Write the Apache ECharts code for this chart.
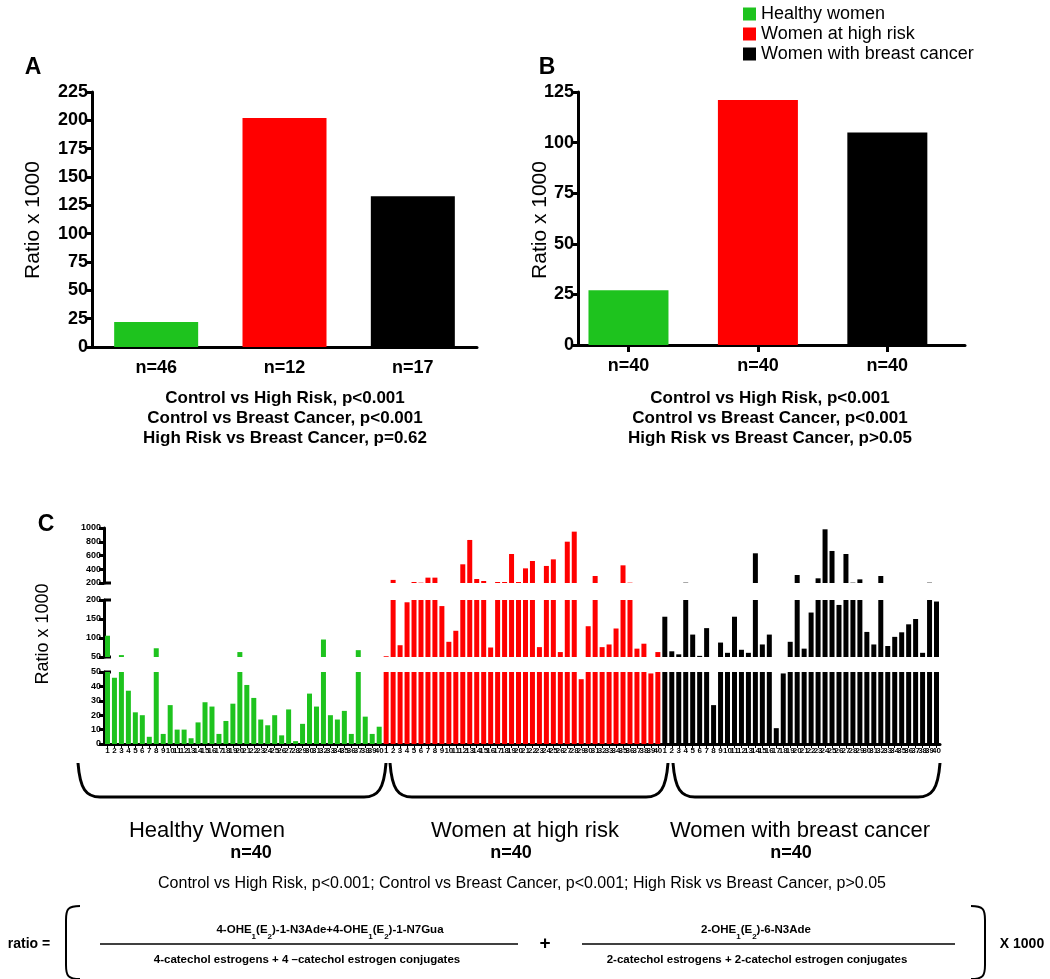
<!DOCTYPE html>
<html><head><meta charset="utf-8">
<script src="https://cdn.jsdelivr.net/npm/echarts@6/dist/echarts.min.js"></script>
<style>html,body{margin:0;padding:0;background:#fff}#main{width:1050px;height:979px}</style>
</head><body><div id="main"></div>
<script>
// ---------- data ----------
const groupNames = ['Healthy women', 'Women at high risk', 'Women with breast cancer'];
const groupColors = ['#1ec31e', '#ff0000', '#000000'];

const aCategories = ['n=46', 'n=12', 'n=17'];
const aValues = [22, 202, 133];
const aAxis = [0, 225, 25];          // min, max, interval

const bCategories = ['n=40', 'n=40', 'n=40'];
const bValues = [27, 121, 105];
const bAxis = [0, 125, 25];

const healthyValues = [106, 46, 55, 37, 22, 20, 5, 73, 7, 27, 10, 10, 4, 15, 29, 26, 7, 16, 28, 63,
                       41, 32, 17, 13, 20, 6, 24, 2, 14, 35, 26, 96, 20, 17, 23, 7, 68, 19, 7, 12];
const highRiskValues = [52, 245, 81, 194, 215, 205, 278, 278, 184, 90, 119, 472, 826, 258, 229, 75, 215, 215, 622, 215,
                        413, 520, 76, 448, 544, 63, 801, 947, 45, 131, 302, 76, 83, 125, 457, 205, 72, 85, 49, 63];
const cancerValues = [156, 65, 57, 205, 109, 53, 126, 27, 88, 61, 156, 69, 61, 632, 83, 109, 11, 49, 90, 316,
                      72, 167, 268, 981, 666, 187, 622, 205, 253, 116, 83, 302, 79, 103, 115, 136, 150, 61, 205, 196];
const cTopAxis = [200, 1000, 200];
const cMidAxis = [50, 200, 50];
const cLowAxis = [0, 50, 10];

const aStats = ['Control vs High Risk, p<0.001', 'Control vs Breast Cancer, p<0.001', 'High Risk vs Breast Cancer, p=0.62'];
const bStats = ['Control vs High Risk, p<0.001', 'Control vs Breast Cancer, p<0.001', 'High Risk vs Breast Cancer, p>0.05'];
const cGroupLabels = ['Healthy Women', 'Women at high risk', 'Women with breast cancer'];
const cGroupN = ['n=40', 'n=40', 'n=40'];
const cStats = 'Control vs High Risk, p<0.001; Control vs Breast Cancer, p<0.001; High Risk vs Breast Cancer, p>0.05';

// ---------- build ----------
const FONT = 'Liberation Sans, Arial, Helvetica, sans-serif';
const cGroups = [healthyValues, highRiskValues, cancerValues];
const cIds = [], cTickLabels = [];
cGroups.forEach((arr, g) => arr.forEach((v, i) => { cIds.push(g + '_' + (i + 1)); cTickLabels.push(String(i + 1)); }));
const cTotal = cIds.length;

const axisLine = { show: true, onZero: false, lineStyle: { color: '#000', width: 3 } };

function panelSeries(vals, gridIdx, valueX) {
  return groupNames.map((name, g) => ({
    name, type: 'bar', xAxisIndex: gridIdx, yAxisIndex: gridIdx,
    barWidth: gridIdx === 0 ? 84 : 80, barGap: '-100%', silent: true,
    itemStyle: { color: groupColors[g] },
    data: valueX ? [[g, vals[g]]] : vals.map((v, i) => (i === g ? v : '-'))
  }));
}
function cSeries(gridIdx) {
  let offset = 0;
  return cGroups.map((arr, g) => {
    const data = new Array(cTotal).fill('-');
    arr.forEach((v, i) => { data[offset + i] = v; });
    offset += arr.length;
    return {
      name: groupNames[g], type: 'bar', xAxisIndex: gridIdx, yAxisIndex: gridIdx,
      barWidth: 5, barGap: '-100%', clip: true, silent: true,
      itemStyle: { color: groupColors[g] }, data
    };
  });
}
const tickStyle = { length: 7, lineStyle: { width: 3, color: '#000' } };
const bigLabel = { color: '#000', fontSize: 18, fontWeight: 'bold', fontFamily: FONT };
function panelXA(cats, gridIdx) {
  return {
    type: 'category', gridIndex: gridIdx, data: cats,
    axisLine, axisTick: Object.assign({ alignWithLabel: true }, tickStyle),
    axisLabel: Object.assign({ margin: 12 }, bigLabel)
  };
}
function panelXB(cats, gridIdx) {
  const pos = cats.map((c, i) => i);
  return {
    type: 'value', gridIndex: gridIdx, min: -0.39, max: 2.6, splitLine: { show: false },
    axisLine, axisTick: Object.assign({ customValues: pos }, tickStyle),
    axisLabel: Object.assign({ margin: 12, customValues: pos, formatter: v => cats[Math.round(v)] }, bigLabel)
  };
}
function panelY(ax, gridIdx) {
  return {
    type: 'value', gridIndex: gridIdx, min: ax[0], max: ax[1], interval: ax[2],
    axisLine, splitLine: { show: false },
    axisTick: Object.assign({ show: true }, tickStyle),
    axisLabel: Object.assign({ margin: 4 }, bigLabel)
  };
}
function cX(gridIdx, show) {
  return {
    type: 'category', gridIndex: gridIdx, data: cIds, show,
    axisLine, axisTick: { show, interval: 0, alignWithLabel: true, length: 4, lineStyle: { width: 1, color: '#000' } },
    axisLabel: { show, interval: 0, color: '#000', fontSize: 8, fontWeight: 'bold', fontFamily: FONT, margin: 3,
                 formatter: (v, i) => cTickLabels[i] }
  };
}
function cY(ax, gridIdx) {
  return {
    type: 'value', gridIndex: gridIdx, min: ax[0], max: ax[1], interval: ax[2],
    axisLine, splitLine: { show: false },
    axisTick: { show: true, length: 5, lineStyle: { width: 3, color: '#000' } },
    axisLabel: { color: '#000', fontSize: 9, fontWeight: 'bold', fontFamily: FONT, margin: 3, formatter: v => String(v) }
  };
}

const grids = [
  { left: 92, top: 92, width: 385, height: 255 },
  { left: 578, top: 92, width: 387, height: 253 },
  { left: 104, top: 528, width: 836, height: 55 },
  { left: 104, top: 600, width: 836, height: 57 },
  { left: 104, top: 672, width: 836, height: 72 }
];

const graphic = [];
function txt(x, y, text, size, weight, extra) {
  graphic.push(Object.assign({ type: 'text', x, y, silent: true,
    style: { text, fill: '#000', font: `${weight} ${size}px ${FONT}`, align: 'center', verticalAlign: 'middle' } }, extra || {}));
}
txt(33, 68, 'A', 23, 'bold');
txt(547, 68, 'B', 23, 'bold');
txt(46, 525, 'C', 23, 'bold');
txt(33, 220, 'Ratio x 1000', 21, 'normal', { rotation: Math.PI / 2 });
txt(540, 220, 'Ratio x 1000', 21, 'normal', { rotation: Math.PI / 2 });
txt(43, 634, 'Ratio x 1000', 18, 'normal', { rotation: Math.PI / 2 });
aStats.forEach((s, i) => txt(285, 398 + i * 20, s, 17, 'bold'));
bStats.forEach((s, i) => txt(770, 398 + i * 20, s, 17, 'bold'));
const cCenters = [207, 525, 800], nCenters = [251, 511, 791];
cGroupLabels.forEach((s, i) => txt(cCenters[i], 831, s, 22, 'normal'));
cGroupN.forEach((s, i) => txt(nCenters[i], 853, s, 18, 'bold'));
txt(522, 884, cStats, 16, 'normal');

// axis break marks in panel C (extend boundary ticks across the axis)
[grids[2].top + grids[2].height, grids[3].top, grids[3].top + grids[3].height, grids[4].top].forEach(y => {
  graphic.push({ type: 'line', silent: true, shape: { x1: 104, y1: y, x2: 111, y2: y }, style: { stroke: '#000', lineWidth: 3 } });
});

// braces under groups
function brace(x1, x2) {
  const y1 = 763, y2 = 797, r = 22;
  graphic.push({ type: 'bezierCurve', silent: true, shape: { x1, y1, cpx1: x1 + 2, cpy1: y2 - 8, cpx2: x1 + 8, cpy2: y2, x2: x1 + r, y2 }, style: { stroke: '#000', lineWidth: 3, fill: null } });
  graphic.push({ type: 'line', silent: true, shape: { x1: x1 + r, y1: y2, x2: x2 - r, y2 }, style: { stroke: '#000', lineWidth: 3 } });
  graphic.push({ type: 'bezierCurve', silent: true, shape: { x1: x2 - r, y1: y2, cpx1: x2 - 8, cpy1: y2, cpx2: x2 - 2, cpy2: y2 - 8, x2, y2: y1 }, style: { stroke: '#000', lineWidth: 3, fill: null } });
}
brace(78, 386); brace(390, 668); brace(673, 940);

// formula
function bracket(x, dir) {
  const t = 906, b = 979, w = 14 * dir;
  graphic.push({ type: 'bezierCurve', silent: true, shape: { x1: x + w, y1: t, cpx1: x + 2 * dir, cpy1: t, cpx2: x, cpy2: t + 3, x2: x, y2: t + 14 }, style: { stroke: '#000', lineWidth: 2, fill: null } });
  graphic.push({ type: 'line', silent: true, shape: { x1: x, y1: t + 14, x2: x, y2: b - 14 }, style: { stroke: '#000', lineWidth: 2 } });
  graphic.push({ type: 'bezierCurve', silent: true, shape: { x1: x, y1: b - 14, cpx1: x, cpy1: b - 3, cpx2: x + 2 * dir, cpy2: b, x2: x + w, y2: b }, style: { stroke: '#000', lineWidth: 2, fill: null } });
}
bracket(66, 1); bracket(985, -1);
graphic.push({ type: 'line', silent: true, shape: { x1: 100, y1: 944, x2: 518, y2: 944 }, style: { stroke: '#000', lineWidth: 1.5 } });
graphic.push({ type: 'line', silent: true, shape: { x1: 582, y1: 944, x2: 955, y2: 944 }, style: { stroke: '#000', lineWidth: 1.5 } });
const rich = {
  n: { fontSize: 11.5, fontWeight: 'bold', fontFamily: FONT, fill: '#000', lineHeight: 14 },
  s: { fontSize: 8, fontWeight: 'bold', fontFamily: FONT, fill: '#000', lineHeight: 14, verticalAlign: 'bottom', padding: [0, 0, -4, 0] }
};
function richTxt(x, y, text) {
  graphic.push({ type: 'text', x, y, silent: true, style: { text, rich, align: 'center', verticalAlign: 'middle' } });
}
richTxt(330, 930, '{n|4-OHE}{s|1}{n|(E}{s|2}{n|)-1-N3Ade+4-OHE}{s|1}{n|(E}{s|2}{n|)-1-N7Gua}');
richTxt(307, 960, '{n|4-catechol estrogens + 4 \u2013catechol estrogen conjugates}');
richTxt(756, 930, '{n|2-OHE}{s|1}{n|(E}{s|2}{n|)-6-N3Ade}');
richTxt(757, 960, '{n|2-catechol estrogens + 2-catechol estrogen conjugates}');
txt(29, 944, 'ratio =', 14, 'bold');
txt(545, 944, '+', 19, 'bold');
txt(1022, 944, 'X 1000', 14, 'bold');

const option = {
  backgroundColor: '#fff',
  animation: false,
  legend: {
    orient: 'vertical', left: 738, top: 0, itemWidth: 13, itemHeight: 13, itemGap: 2,
    icon: 'rect', selectedMode: false, data: groupNames,
    textStyle: { color: '#000', fontSize: 18, fontFamily: FONT }
  },
  grid: grids,
  xAxis: [panelXA(aCategories, 0), panelXB(bCategories, 1), cX(2, false), cX(3, false), cX(4, true)],
  yAxis: [panelY(aAxis, 0), panelY(bAxis, 1), cY(cTopAxis, 2), cY(cMidAxis, 3), cY(cLowAxis, 4)],
  series: [].concat(panelSeries(aValues, 0, false), panelSeries(bValues, 1, true), cSeries(2), cSeries(3), cSeries(4)),
  graphic
};
const chart = echarts.init(document.getElementById('main'), null, { renderer: 'canvas' });
chart.setOption(option);
</script></body></html>
